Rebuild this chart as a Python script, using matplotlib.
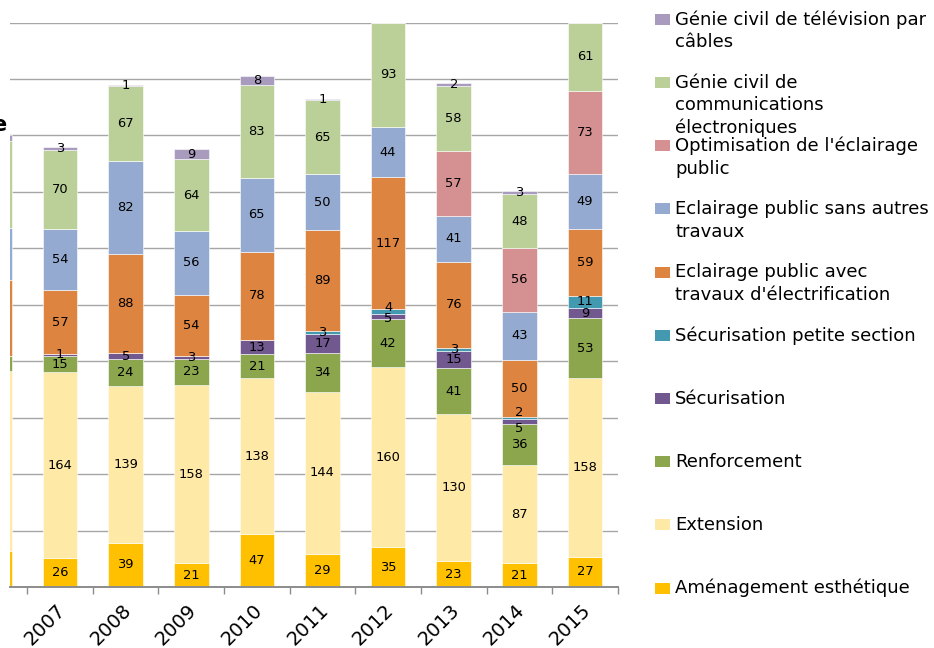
import matplotlib
matplotlib.use("Agg")
import matplotlib.pyplot as plt
import matplotlib.transforms as mtransforms
from matplotlib.patches import Rectangle
import numpy as np

plt.rcParams['font.family'] = ['DejaVu Sans']

years = ["2006", "2007", "2008", "2009", "2010", "2011", "2012", "2013", "2014", "2015"]

amenagement = [32, 26, 39, 21, 47, 29, 35, 23, 21, 27]
extension = [159, 164, 139, 158, 138, 144, 160, 130, 87, 158]
renforcement = [14, 15, 24, 23, 21, 34, 42, 41, 36, 53]
securisation = [0, 1, 5, 3, 13, 17, 5, 15, 5, 9]
securisation_ps = [0, 0, 0, 0, 0, 3, 4, 3, 2, 11]
ep_avec = [67, 57, 88, 54, 78, 89, 117, 76, 50, 59]
ep_sans = [46, 54, 82, 56, 65, 50, 44, 41, 43, 49]
optimisation = [0, 0, 0, 0, 0, 0, 0, 57, 56, 73]
gc_comm = [77, 70, 67, 64, 83, 65, 93, 58, 48, 61]
gc_tele = [5, 3, 1, 9, 8, 1, 0, 2, 3, 0]

series_names = [
    "Aménagement esthétique",
    "Extension",
    "Renforcement",
    "Sécurisation",
    "Sécurisation petite section",
    "Eclairage public avec\ntravaux d'électrification",
    "Eclairage public sans autres\ntravaux",
    "Optimisation de l'éclairage\npublic",
    "Génie civil de\ncommunications\nélectroniques",
    "Génie civil de télévision par\ncâbles",
]
series_values = [amenagement, extension, renforcement, securisation, securisation_ps,
                 ep_avec, ep_sans, optimisation, gc_comm, gc_tele]
colors = ["#FFC000", "#FFE9A6", "#8BA64D", "#71588F", "#4399AF",
          "#DD8441", "#94AAD0", "#D59192", "#BBD098", "#A99BBE"]

W, H = 934, 648
fig = plt.figure(figsize=(W / 100, H / 100), dpi=100)

# axes in pixel layout
x0, x1 = 10, 617.8
y_bottom, y_top = 587, 22.5
ax = fig.add_axes([x0 / W, 1 - y_bottom / H, (x1 - x0) / W, (y_bottom - y_top) / H])

x = np.arange(len(years))
bar_w = 0.528
bottom = np.zeros(len(years))
xmin, xmax = 0.238, 9.5

# vertical nudges (pixels, positive = down) for crowded labels
nudge = {(6, 4): -4.5, (6, 3): 1.5, (8, 3): 7, (8, 4): -5}
px_per_unit = (y_bottom - y_top) / 500.0

for si, (vals, col) in enumerate(zip(series_values, colors)):
    v = np.array(vals, dtype=float)
    ax.bar(x, v, bar_w, bottom=bottom, color=col, edgecolor="white", linewidth=0.4, zorder=3)
    for i in range(len(years)):
        if v[i] > 0 and x[i] > xmin:
            yc = bottom[i] + v[i] / 2 - nudge.get((i, si), 0) / px_per_unit
            ax.text(x[i], yc, f"{int(v[i])}", ha="center", va="center",
                    fontsize=9.4, color="black", zorder=5, clip_on=True)
    bottom += v

ax.set_xlim(xmin, xmax)
ax.set_ylim(0, 500)
ax.set_yticks(np.arange(0, 501, 50))
ax.yaxis.grid(True, color="#A6A6A6", linewidth=1.0, zorder=0)
ax.set_axisbelow(True)
ax.tick_params(axis="y", left=False, labelleft=False)

for s in ["top", "right", "left"]:
    ax.spines[s].set_visible(False)
ax.spines["bottom"].set_color("#8C8C8C")
ax.spines["bottom"].set_linewidth(1.4)
ax.spines["bottom"].set_zorder(4)

ax.set_xticks(np.arange(0.5, 10, 1.0))
ax.set_xticklabels([])
ax.tick_params(axis="x", which="major", direction="out", length=5, width=1, color="#8C8C8C")
ax.set_xticks(x[1:], minor=True)
ax.set_xticklabels(years[1:], minor=True, rotation=45, ha="right",
                   rotation_mode="anchor", fontsize=14)
ax.tick_params(axis="x", which="minor", length=0, pad=9)
shift = mtransforms.ScaledTranslation(-4 / 100, -1 / 100, fig.dpi_scale_trans)
for lab in ax.get_xticklabels(minor=True):
    lab.set_transform(lab.get_transform() + shift)

# clipped title fragment at the left edge
fig.text(6 / W, 1 - 131 / H, "e", ha="right", va="baseline", fontsize=15,
         fontweight="bold", color="black")

# legend (reverse order, drawn in figure pixels)
leg_top = 19.3
leg_step = 63.2
line_h = 22.8
for k, si in enumerate(range(len(series_names) - 1, -1, -1)):
    yc = leg_top + k * leg_step
    fig.add_artist(Rectangle((655 / W, 1 - (yc + 5.5) / H), 15 / W, 11 / H,
                             transform=fig.transFigure, facecolor=colors[si],
                             edgecolor="none"))
    for li, line in enumerate(series_names[si].split("\n")):
        fig.text(675 / W, 1 - (yc + li * line_h) / H, line, ha="left", va="center",
                 fontsize=13, color="black")

fig.savefig("out.png", dpi=100)
